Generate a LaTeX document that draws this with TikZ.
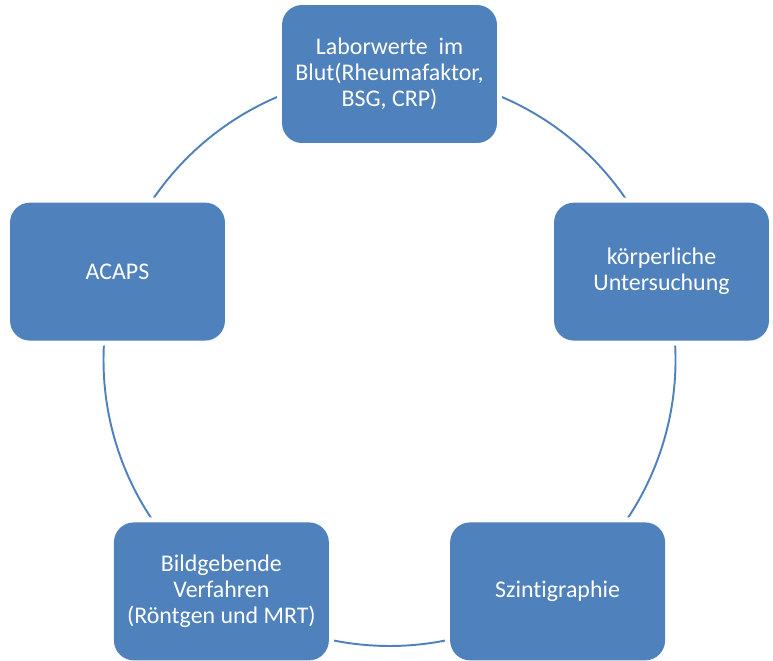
\documentclass[tikz,border=0pt]{standalone}
\usepackage{fontspec}
\setmainfont{Carlito}[Ligatures=NoCommon]
\usetikzlibrary{backgrounds, calc}
\definecolor{boxblue}{HTML}{4F81BD}

\begin{document}
\begin{tikzpicture}[
    x=0.02cm, y=0.02cm,
    every node/.style={font=\fontsize{13.6}{14.8}\selectfont},
    stage/.style={fill=boxblue, text=white, rounded corners=0.4cm,
        minimum width=4.3cm, minimum height=2.76cm, inner sep=0pt, align=center,
        preaction={draw=white, line width=0.2cm}},
    ring/.style={draw=boxblue, line width=1.1pt},
]
\useasboundingbox (0,0) rectangle (773,660);
% cycle centre, radius 286
\coordinate (c) at (389.5,300);
\node[stage] (labor) at ($(c)+(90:286)$) {Laborwerte \ im\\Blut(Rheumafaktor,\\BSG, CRP)};
\node[stage] (koerper) at ($(c)+(18:286)$) {körperliche\\Untersuchung};
\node[stage] (szinti) at ($(c)+(-54:286)$) {Szintigraphie};
\node[stage] (bild) at ($(c)+(-126:286)$) {Bildgebende\\Verfahren\\(Röntgen und MRT)};
\node[stage] (acaps) at ($(c)+(162:286)$) {ACAPS};
% arcs behind the boxes
\begin{scope}[on background layer]
\draw[ring] (labor.center) arc[start angle=90, end angle=18, radius=5.72cm];
\draw[ring] (koerper.center) arc[start angle=18, end angle=-54, radius=5.72cm];
\draw[ring] (szinti.center) arc[start angle=-54, end angle=-126, radius=5.72cm];
\draw[ring] (bild.center) arc[start angle=-126, end angle=-198, radius=5.72cm];
\draw[ring] (acaps.center) arc[start angle=162, end angle=90, radius=5.72cm];
\end{scope}
\end{tikzpicture}
\end{document}
